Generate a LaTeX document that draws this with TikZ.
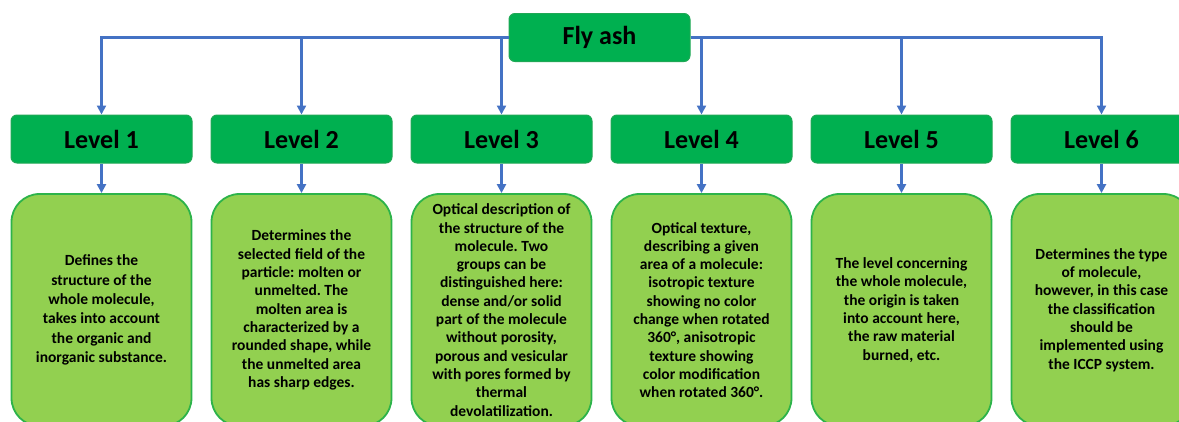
\documentclass[tikz,border=0pt]{standalone}
\usepackage{fontspec}
\setmainfont{Carlito}
\frenchspacing
\usetikzlibrary{arrows.meta,positioning}
\definecolor{headgreen}{HTML}{00B050}
\definecolor{headedge}{HTML}{1FA855}
\definecolor{descgreen}{HTML}{92D050}
\definecolor{descedge}{HTML}{2DB34A}
\definecolor{linkblue}{HTML}{4472C4}
\tikzset{
  headbox/.style={draw=headedge, line width=1pt, fill=headgreen, rounded corners=6pt,
    minimum width=181pt, minimum height=48pt, inner sep=0pt,
    font=\bfseries\fontsize{26}{30}\selectfont, text=black},
  descbox/.style={draw=descedge, line width=1.8pt, fill=descgreen, rounded corners=28pt,
    minimum width=180pt, minimum height=232pt, inner sep=0pt, align=center,
    font=\bfseries\fontsize{15.5}{18.3}\selectfont, text=black},
  link/.style={draw=linkblue, line width=2.2pt,
    -{Triangle[length=9pt,width=9pt]}},
}
\begin{document}
\begin{tikzpicture}[x=1pt,y=-1pt]
\useasboundingbox (0,0) rectangle (1179,421);
\begin{scope}
\clip (0,0) rectangle (1179,421);

% top node
\node[headbox] (fly) at (599.5,37.5) {Fly ash};

% level headers
\node[headbox] (l1) at (101.5,139) {Level 1};
\node[headbox] (l2) at (301.5,139) {Level 2};
\node[headbox] (l3) at (501.5,139) {Level 3};
\node[headbox] (l4) at (701.5,139) {Level 4};
\node[headbox] (l5) at (901.5,139) {Level 5};
\node[headbox] (l6) at (1101.5,139) {Level 6};

% descriptions
\node[descbox, font=\bfseries\fontsize{15.5}{19.3}\selectfont] (d1) at (101.5,310) {Defines the\\structure of the\\whole molecule,\\takes into account\\the organic and\\inorganic substance.};
\node[descbox] (d2) at (301.5,310) {Determines the\\selected field of the\\particle: molten or\\unmelted. The\\molten area is\\characterized by a\\rounded shape, while\\the unmelted area\\has sharp edges.};
\node[descbox] (d3) at (501.5,310) {Optical description of\\the structure of the\\molecule. Two\\groups can be\\distinguished here:\\dense and/or solid\\part of the molecule\\without porosity,\\porous and vesicular\\with pores formed by\\thermal\\devolatilization.};
\node[descbox] (d4) at (701.5,310) {Optical texture,\\describing a given\\area of a molecule:\\isotropic texture\\showing no color\\change when rotated\\360°, anisotropic\\texture showing\\color modification\\when rotated 360°.};
\node[descbox] (d5) at (901.5,310) {The level concerning\\the whole molecule,\\the origin is taken\\into account here,\\the raw material\\burned, etc.};
\node[descbox] (d6) at (1101.5,310) {Determines the type\\of molecule,\\however, in this case\\the classification\\should be\\implemented using\\the ICCP system.};

% connectors from the top node to the level headers
\draw[link] (fly.west) -| (l1.north);
\draw[link] (fly.west) -| (l2.north);
\draw[link] (fly.west) -| (l3.north);
\draw[link] (fly.east) -| (l4.north);
\draw[link] (fly.east) -| (l5.north);
\draw[link] (fly.east) -| (l6.north);

% connectors from the headers to the descriptions
\foreach \i in {1,...,6}{
  \draw[link] (l\i.south) -- (d\i.north);
}
\end{scope}
\end{tikzpicture}
\end{document}
